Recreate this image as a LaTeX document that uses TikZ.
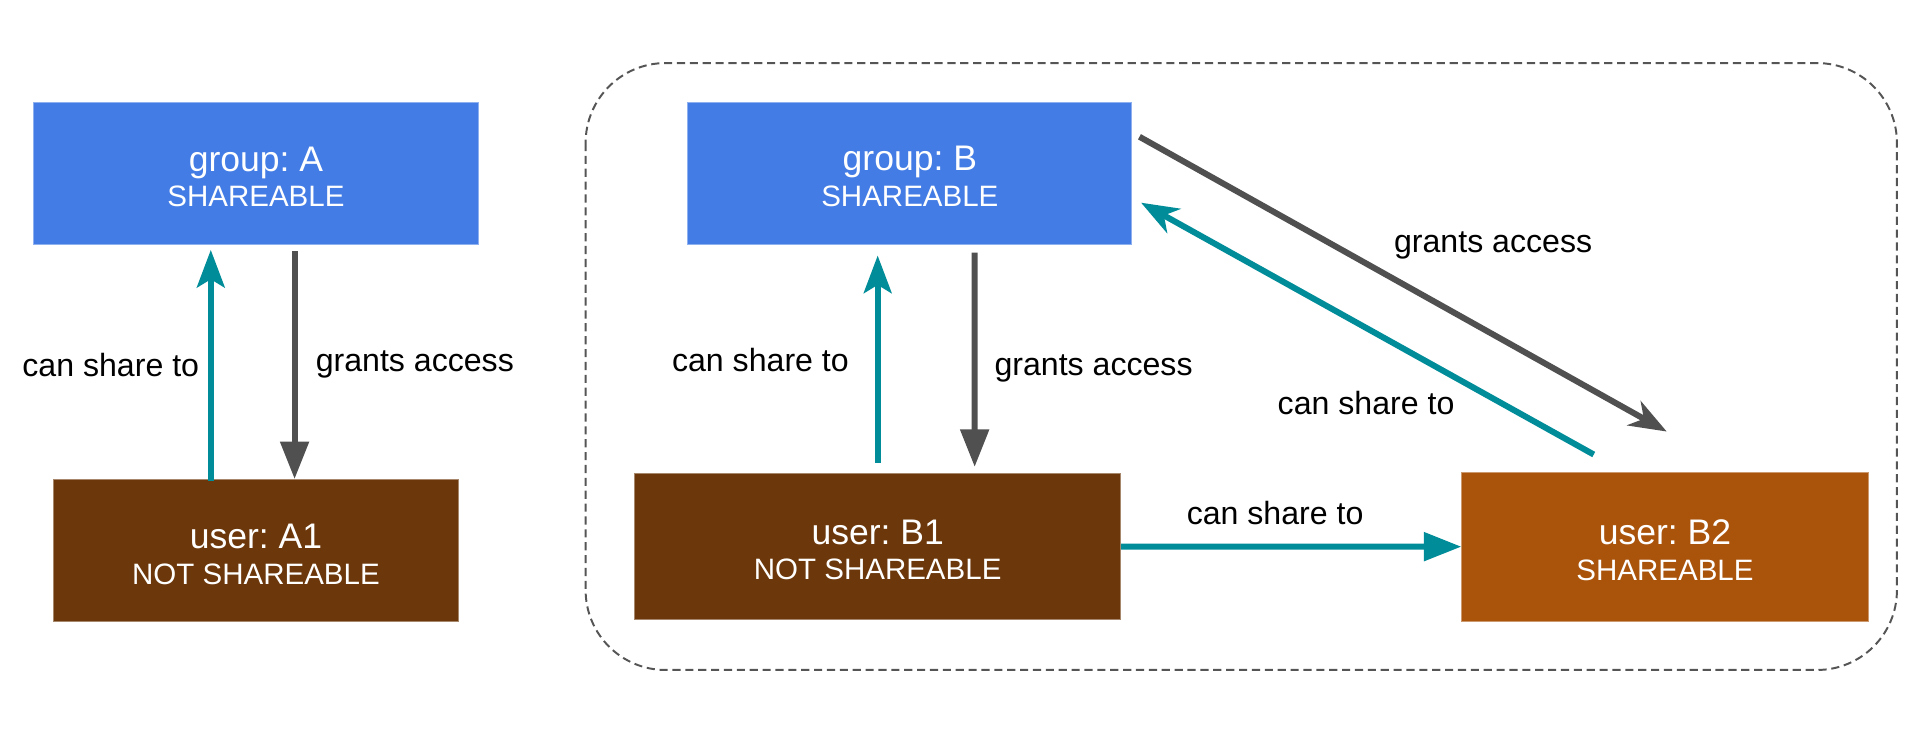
\documentclass[tikz,border=0pt]{standalone}
\usepackage{fontspec}
\setmainfont{Liberation Sans}
\frenchspacing
\usetikzlibrary{arrows.meta,calc}

\definecolor{groupblue}{RGB}{67,124,229}
\definecolor{userbrown}{RGB}{108,55,10}
\definecolor{userorange}{RGB}{170,83,11}
\definecolor{shareteal}{RGB}{0,140,152}
\definecolor{grantgray}{RGB}{80,80,80}
\definecolor{scopegray}{RGB}{85,85,85}

\tikzset{every picture/.style={line width=0.75pt}}
\tikzset{
  box/.style={rectangle, inner sep=0pt, fill=#1, draw=#1!60!white, line width=0.6pt,
    text=white, align=center, font=\fontsize{18.1}{21.9}\selectfont},
  lbl/.style={inner sep=0pt, text=black, font=\fontsize{19.7}{23}\selectfont},
  share/.style={draw=shareteal, line width=3.7pt, -{Stealth[length=23pt,width=17pt,inset=5pt]}},
  sharefill/.style={draw=shareteal, line width=3.7pt, -{Triangle[length=23pt,width=17pt]}},
  grant/.style={draw=grantgray, line width=3.7pt, -{Triangle[length=23pt,width=17pt]}},
  grantdiag/.style={draw=grantgray, line width=3.7pt, -{Stealth[length=23pt,width=17pt,inset=7pt]}},
}
\newcommand{\boxtitle}[1]{{\fontsize{21.8}{21.9}\selectfont\rule{0pt}{19.2pt}#1}}

\begin{document}
\begin{tikzpicture}[x=0.75pt,y=0.75pt,yscale=-1,xscale=1]
\useasboundingbox (0,0) rectangle (1567.2,597.1);

%Shape: Rounded Rectangle [id:scopeB]
\draw [scopegray, line width=1.2pt, dash pattern=on 5pt off 2.9pt, rounded corners=49pt] (479,51.6) rectangle (1551.6,548);

%Shape: Rectangle [id:grpA]
\node [box=groupblue, minimum width=273pt, minimum height=87.5pt] (grpA) at (209.35,141.95) {\boxtitle{group: A}\\SHAREABLE};
%Shape: Rectangle [id:usrA1]
\node [box=userbrown, minimum width=249pt, minimum height=87.3pt] (usrA1) at (209.35,450.5) {\boxtitle{user: A1}\\NOT SHAREABLE};
%Shape: Rectangle [id:grpB]
\node [box=groupblue, minimum width=272.3pt, minimum height=86.9pt] (grpB) at (744.2,141.7) {\boxtitle{group: B}\\SHAREABLE};
%Shape: Rectangle [id:usrB1]
\node [box=userbrown, minimum width=298pt, minimum height=89.6pt] (usrB1) at (717.9,447.05) {\boxtitle{user: B1}\\NOT SHAREABLE};
%Shape: Rectangle [id:usrB2]
\node [box=userorange, minimum width=249.2pt, minimum height=91.3pt] (usrB2) at (1361.9,447.15) {\boxtitle{user: B2}\\SHAREABLE};

%Straight Lines [id:shareA]
\draw [share, shorten <=-1pt, shorten >=2.8pt] ([xshift=-27.7pt]usrA1.north) -- ([xshift=-27.7pt]grpA.south);
%Straight Lines [id:grantA]
\draw [grant, shorten <=3.75pt] ([xshift=23.7pt]grpA.south) -- ([xshift=23.7pt]usrA1.north);
%Straight Lines [id:shareB]
\draw [share, shorten <=6.4pt, shorten >=6.75pt] (usrB1.north) -- (usrB1.north |- grpB.south);
%Straight Lines [id:grantB]
\draw [grant, shorten <=5pt, shorten >=3.75pt] ([xshift=39.75pt]grpB.south) -- ([xshift=59.5pt]usrB1.north);
%Straight Lines [id:shareB1B2]
\draw [sharefill] (usrB1.east) -- (usrB2.west);
%Straight Lines [id:grantBB2]
\draw [grantdiag] ($(grpB.north east)+(5.9,28.5)$) -- ($(usrB2.north)+(1.4,-32.9)$);
%Straight Lines [id:shareB2B]
\draw [share, -{Stealth[length=23pt,width=17pt,inset=7pt]}] ($(usrB2.north)+(-58.3,-14.1)$) -- ($(grpB.east)+(7.2,24.1)$);

% Text Node
\node [lbl] (lblShareA) at (90.6,298.5) {can share to};
% Text Node
\node [lbl] (lblGrantA) at (339.3,298.5) {grants access};
% Text Node
\node [lbl] (lblShareB) at (622,294.8) {can share to};
% Text Node
\node [lbl] (lblGrantB) at (894.5,301.5) {grants access};
% Text Node
\node [lbl] (lblShareB1B2) at (1043,419.8) {can share to};
% Text Node
\node [lbl] (lblGrantBB2) at (1221.3,201) {grants access};
% Text Node
\node [lbl] (lblShareB2B) at (1117.4,329.9) {can share to};

\end{tikzpicture}
\end{document}
